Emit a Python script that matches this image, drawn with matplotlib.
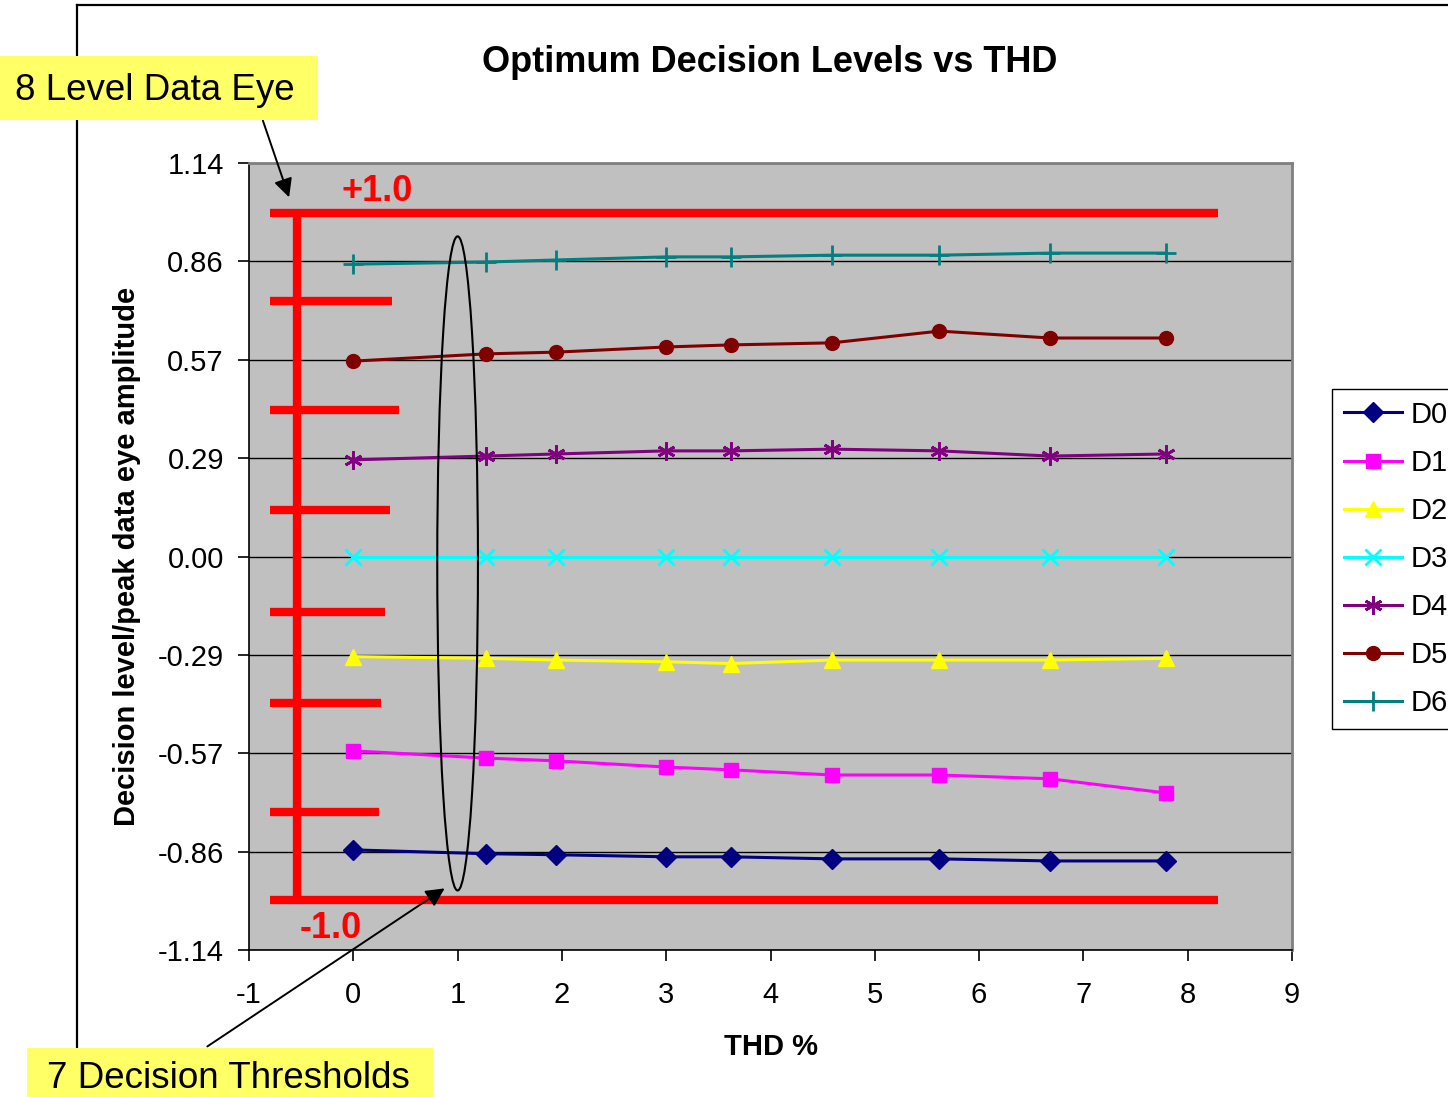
import matplotlib
matplotlib.use("Agg")
import matplotlib.pyplot as plt
from matplotlib.patches import Rectangle, Ellipse
from matplotlib.lines import Line2D

plt.rcParams['font.family'] = ['Liberation Sans', 'DejaVu Sans']

# THD (%) at each measured point
thd = [0.0, 1.27, 1.94, 3.0, 3.62, 4.59, 5.62, 6.68, 7.79]

# Optimum decision levels (normalised to peak eye amplitude)
d0 = [-0.850, -0.861, -0.864, -0.870, -0.870, -0.876, -0.876, -0.882, -0.882]
d1 = [-0.563, -0.584, -0.592, -0.610, -0.618, -0.633, -0.633, -0.644, -0.685]
d2 = [-0.290, -0.295, -0.300, -0.305, -0.310, -0.300, -0.300, -0.300, -0.295]
d3 = [0.0, 0.0, 0.0, 0.0, 0.0, 0.0, 0.0, 0.0, 0.0]
d4 = [0.280, 0.291, 0.297, 0.306, 0.306, 0.311, 0.306, 0.291, 0.297]
d5 = [0.566, 0.587, 0.592, 0.607, 0.613, 0.619, 0.653, 0.633, 0.633]
d6 = [0.847, 0.853, 0.859, 0.868, 0.868, 0.873, 0.873, 0.879, 0.879]

series_names = ["D0", "D1", "D2", "D3", "D4", "D5", "D6"]
series_values = [d0, d1, d2, d3, d4, d5, d6]
series_colors = ["#000080", "#FF00FF", "#FFFF00", "#00FFFF", "#800080", "#800000", "#008080"]
series_markers = ["D", "s", "^", "x", (6, 2, 0), "o", "+"]
series_msizes = [10, 10, 12, 11, 13, 10, 14]

# Axis ticks
y_ticks = [-1.14, -0.855, -0.57, -0.285, 0.0, 0.285, 0.57, 0.855, 1.14]
y_tick_labels = ["-1.14", "-0.86", "-0.57", "-0.29", "0.00", "0.29", "0.57", "0.86", "1.14"]
x_ticks = [-1, 0, 1, 2, 3, 4, 5, 6, 7, 8, 9]
x_tick_labels = ["-1", "0", "1", "2", "3", "4", "5", "6", "7", "8", "9"]

# 8-level eye sketch: rails and threshold stubs
eye_rails = [0.995, -0.995]
eye_thresholds = [0.74, 0.424, 0.135, -0.161, -0.424, -0.74]
eye_threshold_ends = [0.37, 0.44, 0.35, 0.30, 0.27, 0.25]

W, H = 1448, 1097
fig = plt.figure(figsize=(W / 100, H / 100), dpi=100)
fig.patch.set_facecolor("white")

ax = fig.add_axes([249 / W, 1 - 950 / H, (1292 - 249) / W, (950 - 163) / H])
ax.set_facecolor("#C0C0C0")
ax.set_xlim(-1, 9)
ax.set_ylim(-1.14, 1.14)

ax.set_yticks(y_ticks)
ax.set_yticklabels(y_tick_labels)
ax.set_xticks(x_ticks)
ax.set_xticklabels(x_tick_labels)
ax.tick_params(axis="both", direction="out", length=8, width=1.2, labelsize=21, colors="black")
ax.tick_params(axis="y", pad=10)
ax.tick_params(axis="x", pad=14)
ax.grid(axis="y", color="black", linewidth=1.0)
ax.set_axisbelow(True)
for side in ["top", "right"]:
    ax.spines[side].set_color("#808080")
    ax.spines[side].set_linewidth(2)
for side in ["left", "bottom"]:
    ax.spines[side].set_color("black")
    ax.spines[side].set_linewidth(1.2)

# Eye diagram overlay
red = "#FF0000"
for r in eye_rails:
    ax.plot([-0.80, 8.29], [r, r], color=red, lw=6, solid_capstyle="butt", zorder=2)
ax.plot([-0.54, -0.54], [eye_rails[0], eye_rails[1]], color=red, lw=6, solid_capstyle="butt", zorder=2)
for t, xe in zip(eye_thresholds, eye_threshold_ends):
    ax.plot([-0.80, xe], [t, t], color=red, lw=6, solid_capstyle="butt", zorder=2)
ax.text(0.227, 1.058, "+1.0", color=red, fontsize=26, fontweight="bold", ha="center", va="center")
ax.text(-0.214, -1.078, "-1.0", color=red, fontsize=26, fontweight="bold", ha="center", va="center")

# Decision level series
handles = []
for name, vals, c, m, ms in zip(series_names, series_values, series_colors, series_markers, series_msizes):
    mew = 2 if m in ("x", "+") or isinstance(m, tuple) else 1
    h, = ax.plot(thd, vals, color=c, lw=2.2, marker=m, markersize=ms,
                 markerfacecolor=c, markeredgecolor=c, markeredgewidth=mew,
                 label=name, zorder=3)
    handles.append(h)

# Highlight of the threshold column
ax.add_patch(Ellipse((1.0, -0.02), 0.39, 1.895, fill=False, edgecolor="black", lw=1.5, zorder=4))

ax.set_xlabel("THD %", fontsize=21, fontweight="bold")
ax.xaxis.set_label_coords(0.5, -0.106)
ax.set_ylabel("Decision level/peak data eye amplitude", fontsize=21, fontweight="bold")
ax.yaxis.set_label_coords(-0.104, 0.5)

fig.text(770 / W, 1 - 62 / H, "Optimum Decision Levels vs THD", fontsize=26,
         fontweight="bold", ha="center", va="center")

# Chart area border
fig.add_artist(Line2D([77 / W, 77 / W], [0, 1 - 5 / H], color="black", lw=1.6, transform=fig.transFigure))
fig.add_artist(Line2D([77 / W, 1], [1 - 5 / H, 1 - 5 / H], color="black", lw=1.6, transform=fig.transFigure))

# Legend
fig.legend(handles=handles, loc="upper left", bbox_to_anchor=(1332 / W, 1 - 389 / H),
           fontsize=21, frameon=True, fancybox=False, edgecolor="black", framealpha=1,
           handlelength=2.0, handletextpad=0.3, labelspacing=0.69, borderpad=0.4, borderaxespad=0)

# Callouts
yellow = "#FFFF66"
fig.add_artist(Rectangle((0, 1 - 120 / H), 318 / W, 64 / H, facecolor=yellow, edgecolor="none",
                         transform=fig.transFigure, zorder=5))
fig.text(15 / W, 1 - 91 / H, "8 Level Data Eye", fontsize=26.5, ha="left", va="center", zorder=6)
fig.add_artist(Rectangle((27 / W, 0), 406 / W, 49 / H, facecolor=yellow, edgecolor="none",
                         transform=fig.transFigure, zorder=5))
fig.text(47 / W, 18 / H, "7 Decision Thresholds", fontsize=26.5, ha="left", va="center", zorder=6)

ax.annotate("", xy=(-0.607, 1.033), xycoords="data", xytext=(262, H - 118), textcoords="figure pixels",
            arrowprops=dict(arrowstyle="-|>", color="black", lw=1.4, mutation_scale=28), annotation_clip=False)
ax.annotate("", xy=(0.898, -0.957), xycoords="data", xytext=(205, H - 1048), textcoords="figure pixels",
            arrowprops=dict(arrowstyle="-|>", color="black", lw=1.4, mutation_scale=28), annotation_clip=False)

fig.savefig("out.png", dpi=100)
